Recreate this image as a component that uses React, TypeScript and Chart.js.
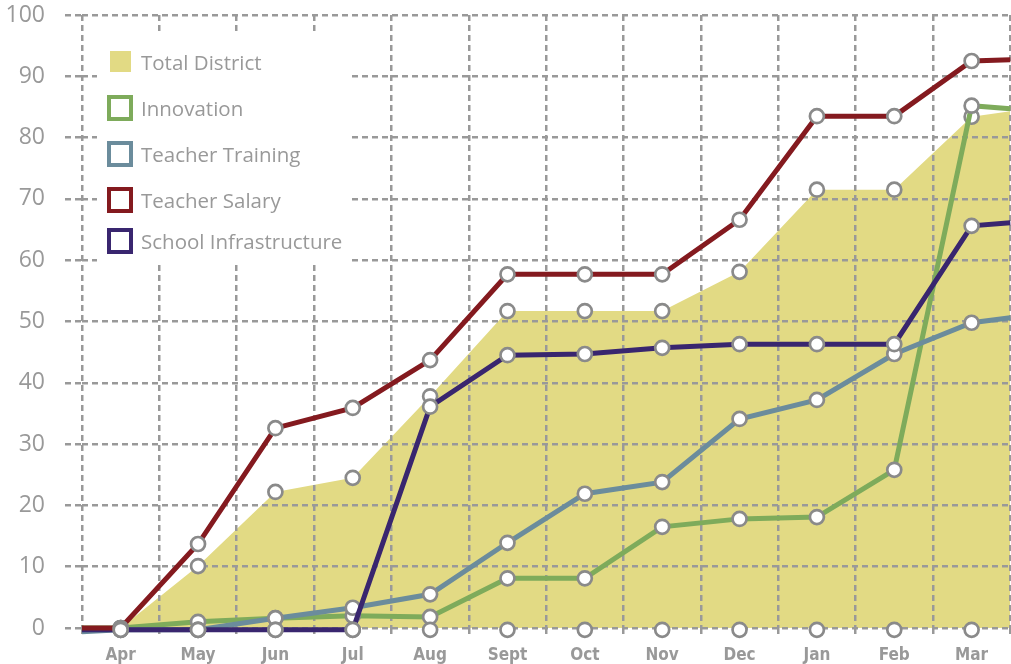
import React, { useEffect, useRef } from "react";
import { Chart, registerables } from "chart.js";

Chart.register(...registerables);

// ---------- data ----------
const months = ["Apr", "May", "Jun", "Jul", "Aug", "Sept", "Oct", "Nov", "Dec", "Jan", "Feb", "Mar"];
const yTicks = [0, 10, 20, 30, 40, 50, 60, 70, 80, 90, 100];
const seriesNames = ["Total District", "Innovation", "Teacher Training", "Teacher Salary", "School Infrastructure"];

const totalDistrict = [0, 10.1, 22.2, 24.5, 37.8, 51.7, 51.7, 51.7, 58.1, 71.5, 71.5, 83.4];
const totalDistrictEnd = 84.3;

const innovationStart = 0;
const innovation = [0, 1.0, 1.6, 2.0, 1.8, 8.1, 8.1, 16.5, 17.8, 18.1, 25.8, 85.2];
const innovationEnd = 84.7;

const trainingStart = -0.6;
const teacherTraining = [-0.3, -0.3, 1.6, 3.3, 5.5, 13.9, 21.9, 23.8, 34.1, 37.2, 44.7, 49.8];
const trainingEnd = 50.6;

const salaryStart = 0;
const teacherSalary = [0, 13.7, 32.6, 35.9, 43.7, 57.7, 57.7, 57.7, 66.6, 83.5, 83.5, 92.5];
const salaryEnd = 92.7;

const infraStart = -0.3;
const schoolInfrastructure = [-0.3, -0.3, -0.3, -0.3, 36.1, 44.5, 44.7, 45.7, 46.3, 46.3, 46.3, 65.6];
const infraEnd = 66.1;

const baseline = [-0.3, -0.3, -0.3, -0.3, -0.3, -0.3, -0.3, -0.3, -0.3, -0.3, -0.3, -0.3];

// ---------- styles ----------
const COLORS = {
  total: "#e2da84",
  innovation: "#7eab5b",
  training: "#6b8c9c",
  salary: "#841a1f",
  infra: "#39266f",
};
const GRID = "#999999";
const TEXT = "#999999";
const MARK_BORDER = "#8a8a8a";
const DASH = [6, 4];

function monthPoints(vals: number[]) {
  return vals.map((v, i) => ({ x: i + 0.5, y: v }));
}
function edgeSeries(start: number | null, vals: number[], end: number) {
  const pts: { x: number; y: number }[] = [];
  if (start !== null) pts.push({ x: 0, y: start });
  pts.push(...monthPoints(vals));
  pts.push({ x: months.length, y: end });
  return pts;
}
function radii(hasStart: boolean) {
  const r: number[] = [];
  if (hasStart) r.push(0);
  months.forEach(() => r.push(7));
  r.push(0);
  return r;
}

const markerStyle = {
  pointBackgroundColor: "#ffffff",
  pointBorderColor: MARK_BORDER,
  pointBorderWidth: 2.7,
  pointHoverRadius: 7,
};

function lineDataset(label: string, color: string, start: number, vals: number[], end: number, order: number) {
  return {
    label,
    data: edgeSeries(start, vals, end),
    borderColor: color,
    backgroundColor: color,
    borderWidth: 5,
    tension: 0,
    fill: false,
    clip: false as any,
    pointRadius: radii(true),
    order,
    ...markerStyle,
  };
}

const legendRows = [
  { name: seriesNames[0], color: COLORS.total, filled: true, cy: 62 },
  { name: seriesNames[1], color: COLORS.innovation, filled: false, cy: 108 },
  { name: seriesNames[2], color: COLORS.training, filled: false, cy: 154 },
  { name: seriesNames[3], color: COLORS.salary, filled: false, cy: 200 },
  { name: seriesNames[4], color: COLORS.infra, filled: false, cy: 241 },
];

export default function App() {
  const canvasRef = useRef<HTMLCanvasElement | null>(null);

  useEffect(() => {
    if (!canvasRef.current) return;
    const chart = new Chart(canvasRef.current, {
      type: "line",
      data: {
        datasets: [
          {
            label: "baseline",
            data: monthPoints(baseline),
            showLine: false,
            pointRadius: 7,
            clip: false as any,
            order: 0,
            ...markerStyle,
          } as any,
          lineDataset(seriesNames[3], COLORS.salary, salaryStart, teacherSalary, salaryEnd, 1),
          lineDataset(seriesNames[4], COLORS.infra, infraStart, schoolInfrastructure, infraEnd, 2),
          lineDataset(seriesNames[2], COLORS.training, trainingStart, teacherTraining, trainingEnd, 3),
          lineDataset(seriesNames[1], COLORS.innovation, innovationStart, innovation, innovationEnd, 4),
          {
            label: seriesNames[0],
            data: edgeSeries(null, totalDistrict, totalDistrictEnd),
            borderColor: "rgba(0,0,0,0)",
            backgroundColor: COLORS.total,
            borderWidth: 0,
            fill: "origin",
            tension: 0,
            clip: false as any,
            pointRadius: radii(false),
            order: 10,
            ...markerStyle,
          } as any,
        ],
      },
      options: {
        responsive: false,
        animation: false,
        devicePixelRatio: 1,
        layout: { padding: { top: 15, right: 6, left: 0, bottom: 0 } },
        plugins: {
          legend: { display: false },
          tooltip: { enabled: false },
          filler: { drawTime: "beforeDraw" } as any,
        },
        scales: {
          x: {
            type: "linear",
            min: 0,
            max: months.length,
            afterBuildTicks: (s: any) => {
              const t: { value: number }[] = [];
              for (let i = 0; i <= months.length; i++) {
                t.push({ value: i });
                if (i < months.length) t.push({ value: i + 0.5 });
              }
              s.ticks = t;
            },
            afterFit: (s: any) => {
              s.height = 36;
              s.paddingLeft = 0;
              s.paddingRight = 0;
            },
            grid: {
              color: (ctx: any) =>
                ctx.tick && Number.isInteger(ctx.tick.value) ? GRID : "rgba(0,0,0,0)",
              lineWidth: 2.5,
              tickLength: 9,
              tickBorderDash: DASH,
              tickWidth: 2.5,
            },
            border: { display: false, dash: DASH },
            ticks: {
              autoSkip: false,
              maxRotation: 0,
              minRotation: 0,
              padding: 8,
              color: TEXT,
              font: {
                family: "'Liberation Sans Narrow', 'DejaVu Sans Condensed', sans-serif",
                weight: "bold",
                size: 17,
              },
              callback: (v: any) => (Number.isInteger(v) ? "" : months[Math.floor(v)]),
            },
          },
          y: {
            type: "linear",
            min: 0,
            max: 100,
            afterBuildTicks: (s: any) => {
              s.ticks = yTicks.map((v) => ({ value: v }));
            },
            afterFit: (s: any) => {
              s.width = 82;
              s.paddingTop = 0;
              s.paddingBottom = 0;
            },
            grid: {
              color: GRID,
              lineWidth: 2.5,
              tickLength: 17,
              tickBorderDash: DASH,
              tickWidth: 2.5,
            },
            border: { display: false, dash: DASH },
            ticks: {
              padding: 20,
              color: TEXT,
              font: { family: "'Open Sans', sans-serif", size: 23 },
            },
          },
        },
      },
    });
    return () => chart.destroy();
  }, []);

  return (
    <div
      style={{
        position: "fixed",
        left: 0,
        top: 0,
        width: 1011,
        height: 664,
        overflow: "hidden",
        background: "#ffffff",
      }}
    >
      <canvas ref={canvasRef} width={1020} height={664} style={{ display: "block", width: 1020, height: 664 }} />
      <div
        style={{
          position: "absolute",
          left: 97,
          top: 33,
          width: 253,
          height: 229,
          background: "#ffffff",
        }}
      />
      {legendRows.map((r) => (
        <div
          key={r.name}
          style={{
            position: "absolute",
            left: 0,
            top: r.cy - 15,
            height: 30,
            display: "flex",
            alignItems: "center",
            fontFamily: "'Open Sans', sans-serif",
            fontSize: 20.5,
            color: TEXT,
            whiteSpace: "nowrap",
          }}
        >
          <div style={{ width: 141, position: "relative", height: 30 }}>
            {r.filled ? (
              <div
                style={{
                  position: "absolute",
                  left: 110,
                  top: 4,
                  width: 21,
                  height: 21,
                  background: r.color,
                }}
              />
            ) : (
              <div
                style={{
                  position: "absolute",
                  left: 107,
                  top: 2,
                  width: 26,
                  height: 26,
                  boxSizing: "border-box",
                  border: `4.5px solid ${r.color}`,
                  background: "#ffffff",
                }}
              />
            )}
          </div>
          <span>{r.name}</span>
        </div>
      ))}
    </div>
  );
}
